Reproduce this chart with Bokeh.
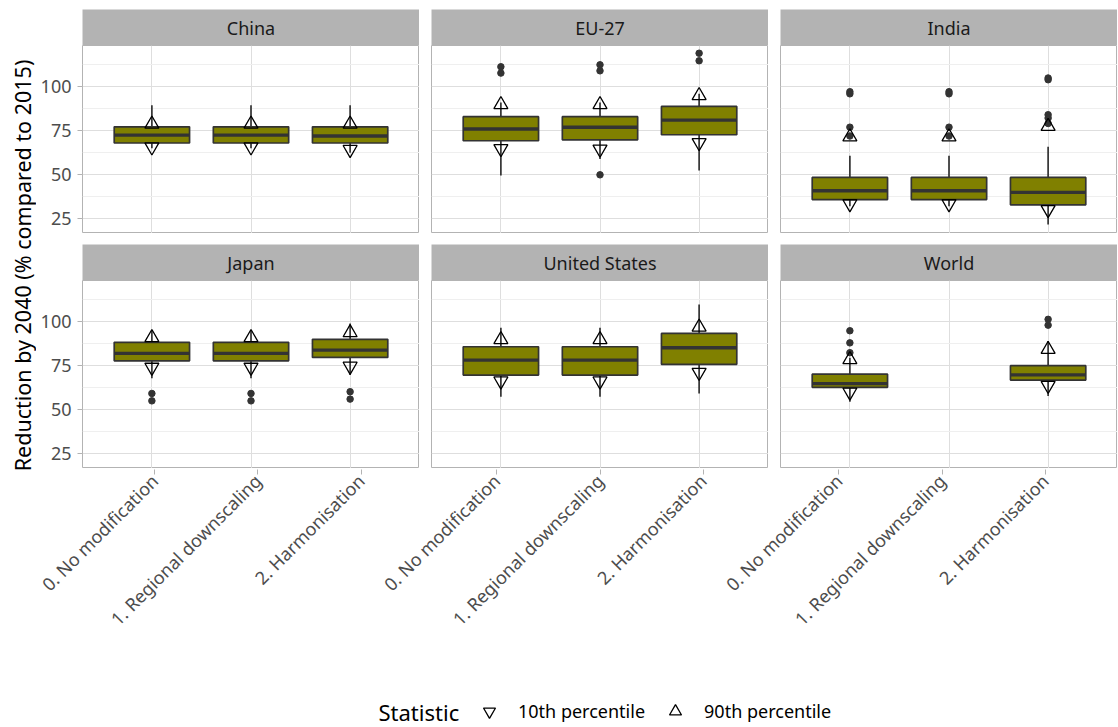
from math import pi
from bokeh.plotting import figure
from bokeh.models import (ColumnDataSource, FactorRange, Range1d, FixedTicker,
                          Label, Legend, LegendItem)
from bokeh.layouts import row, column
from bokeh.transform import dodge
from bokeh.embed import file_html
from bokeh.resources import INLINE

# ---------------- data ----------------
regions = ["China", "EU-27", "India", "Japan", "United States", "World"]
methods = ["0. No modification", "1. Regional downscaling", "2. Harmonisation"]

box_region = [r for r in regions for _ in methods]
box_method = [m for _ in regions for m in methods]

#              China              EU-27              India              Japan              United States      World
whisker_low  = [65.0, 65.0, 62.5,  49.5, 58.9, 52.4,  32.0, 32.0, 21.6,  67.8, 67.8, 69.7,  57.3, 57.3, 59.2,  54.5, None, 57.7]
q1           = [68.0, 68.0, 68.0,  69.3, 69.8, 72.7,  35.8, 35.8, 32.8,  77.8, 77.8, 79.7,  69.7, 69.7, 75.8,  62.7, None, 66.8]
median       = [72.5, 72.5, 72.0,  76.0, 77.0, 81.0,  40.8, 40.8, 39.9,  82.0, 82.0, 83.9,  78.2, 78.2, 85.2,  64.8, None, 69.8]
q3           = [77.2, 77.2, 77.2,  83.0, 83.0, 88.8,  48.4, 48.4, 48.4,  88.3, 88.3, 90.0,  85.8, 85.8, 93.4,  70.2, None, 75.0]
whisker_high = [89.5, 89.5, 89.5,  91.0, 91.0, 96.0,  60.7, 60.7, 65.9,  95.0, 95.0, 99.0,  96.6, 96.6, 109.9, 79.5, None, 89.0]
p10          = [65.8, 65.8, 64.3,  64.8, 64.5, 68.2,  33.4, 33.4, 30.1,  74.1, 74.1, 74.7,  66.3, 66.3, 71.2,  60.0, None, 63.8]
p90          = [78.8, 78.8, 78.8,  89.9, 89.9, 95.0,  71.5, 71.5, 77.5,  91.0, 91.0, 93.8,  89.9, 89.9, 97.0,  78.5, None, 84.3]

out_region = (["EU-27"] * 7 + ["India"] * 13 + ["Japan"] * 6 + ["World"] * 5)
out_method = ([methods[0]] * 2 + [methods[1]] * 3 + [methods[2]] * 2 +
              [methods[0]] * 4 + [methods[1]] * 4 + [methods[2]] * 5 +
              [methods[0]] * 2 + [methods[1]] * 2 + [methods[2]] * 2 +
              [methods[0]] * 3 + [methods[2]] * 2)
out_value = ([111.4, 107.8, 112.5, 109.1, 49.9, 119.1, 114.8] +
             [97.2, 96.0, 77.0, 72.0, 97.2, 96.0, 77.0, 72.0, 105.0, 104.0, 84.1, 82.2, 79.1] +
             [59.2, 55.0, 59.2, 55.0, 60.2, 56.0] +
             [94.9, 88.0, 82.4, 101.4, 98.1])

y_ticks = [25, 50, 75, 100]
y_minor = [37.5, 62.5, 87.5, 112.5]

stat_title = "Statistic"
stat_labels = ["10th percentile", "90th percentile"]

# ---------------- style ----------------
FONT = "Noto Sans"
OLIVE = "#808000"
DARK = "#333333"
FRAME_W, FRAME_H = 337, 188
STRIP_H = 36
TOP_PAD = 9
ROW_GAP = 11
YLAB_W = 36
AXIS_W = 46
GAP = 12
Y0, Y1 = 16.5, 123.5
SMALL = "18px"
LARGE = "21.5px"
PAGE_H = 726
AXB = 181                     # height of the shared x-axis area below the panels

FRAME_LEFT = YLAB_W + AXIS_W
PANELS_W = 3 * FRAME_W + 2 * GAP
FRAME_RIGHT = FRAME_LEFT + PANELS_W


def base_fig(**kw):
    kw.setdefault("toolbar_location", None)
    kw.setdefault("output_backend", "svg")
    kw.setdefault("min_border", 0)
    return figure(**kw)


def make_strip(name, col, top):
    s = base_fig(x_range=Range1d(0, 1), y_range=Range1d(0, 1),
                 frame_width=FRAME_W, frame_height=STRIP_H,
                 min_border_left=AXIS_W if col == 0 else GAP, min_border_top=top,
                 x_axis_location=None, y_axis_location=None,
                 background_fill_color="#b3b3b3", outline_line_color=None)
    s.grid.visible = False
    s.add_layout(Label(x=0.5, y=0.5, text=name, text_align="center", text_baseline="middle",
                       text_font=FONT, text_font_size=SMALL, text_color="#1a1a1a"))
    return s


def make_panel(region, col):
    xr = FactorRange(factors=methods, range_padding=0.2, range_padding_units="absolute",
                     factor_padding=0)
    p = base_fig(x_range=xr, y_range=Range1d(Y0, Y1),
                 frame_width=FRAME_W, frame_height=FRAME_H,
                 min_border_left=AXIS_W if col == 0 else GAP,
                 outline_line_color="#b3b3b3", outline_line_width=1)
    idx = [i for i, r in enumerate(box_region) if r == region and q1[i] is not None]
    src = ColumnDataSource(dict(
        cat=[box_method[i] for i in idx],
        lo=[whisker_low[i] for i in idx], q1=[q1[i] for i in idx],
        med=[median[i] for i in idx], q3=[q3[i] for i in idx],
        hi=[whisker_high[i] for i in idx],
        p10=[p10[i] for i in idx], p90=[p90[i] for i in idx]))
    oidx = [i for i, r in enumerate(out_region) if r == region]
    osrc = ColumnDataSource(dict(cat=[out_method[i] for i in oidx],
                                 v=[out_value[i] for i in oidx]))

    p.segment(x0="cat", x1="cat", y0="q3", y1="hi", source=src, line_color=DARK, line_width=1.7)
    p.segment(x0="cat", x1="cat", y0="q1", y1="lo", source=src, line_color=DARK, line_width=1.7)
    p.vbar(x="cat", width=0.76, bottom="q1", top="q3", source=src,
           fill_color=OLIVE, line_color=DARK, line_width=1.7)
    p.segment(x0=dodge("cat", -0.38, range=xr), x1=dodge("cat", 0.38, range=xr),
              y0="med", y1="med", source=src, line_color=DARK, line_width=3.4)
    p.scatter(x="cat", y="v", source=osrc, size=6.5, color=DARK)
    p.scatter(x="cat", y="p10", source=src, marker="inverted_triangle", size=14,
              fill_color=None, line_color="black", line_width=1.3)
    p.scatter(x="cat", y="p90", source=src, marker="triangle", size=14,
              fill_color=None, line_color="black", line_width=1.3)

    p.xaxis.visible = False
    yax = p.yaxis[0]
    yax.ticker = FixedTicker(ticks=y_ticks, minor_ticks=y_minor)
    if col == 0:
        yax.axis_line_color = None
        yax.major_tick_line_color = "#b3b3b3"
        yax.major_tick_out = 5
        yax.major_tick_in = 0
        yax.minor_tick_line_color = None
        yax.major_label_standoff = 6
        yax.major_label_text_font = FONT
        yax.major_label_text_font_size = SMALL
        yax.major_label_text_color = "#4d4d4d"
    else:
        yax.visible = False
    p.xgrid.grid_line_color = "#dedede"
    p.ygrid.grid_line_color = "#dedede"
    p.ygrid.minor_grid_line_color = "#efefef"
    return p


top_strips = row(*[make_strip(r, c, TOP_PAD) for c, r in enumerate(regions[:3])])
top_panels = row(*[make_panel(r, c) for c, r in enumerate(regions[:3])])
bot_strips = row(*[make_strip(r, c, ROW_GAP) for c, r in enumerate(regions[3:])])
bot_panels = row(*[make_panel(r, c) for c, r in enumerate(regions[3:])])
grid_h = TOP_PAD + STRIP_H + FRAME_H + ROW_GAP + STRIP_H + FRAME_H

# shared y-axis title (its own narrow canvas spanning the whole page height)
ylab = base_fig(x_range=Range1d(0, YLAB_W), y_range=Range1d(-PAGE_H, 0),
                frame_width=YLAB_W, frame_height=PAGE_H,
                x_axis_location=None, y_axis_location=None, outline_line_color=None)
ylab.grid.visible = False
ylab.add_layout(Label(x=22, y=-265,
                      text="Reduction by 2040 (% compared to 2015)", angle=pi / 2,
                      text_align="center", text_baseline="middle",
                      text_font=FONT, text_font_size=LARGE, text_color="black"))

# shared x-axis for the bottom row (nested factors reproduce the panel gaps)
unit_px = FRAME_W / 3.2
gpad = 1.2 + GAP / unit_px - 1.0
nested = [(r, m) for r in regions[3:] for m in methods]
ax_range = FactorRange(factors=nested, factor_padding=0, group_padding=gpad,
                       range_padding=0.2, range_padding_units="absolute")
axf = base_fig(x_range=ax_range, y_range=Range1d(0, 1),
               frame_width=PANELS_W, frame_height=1,
               min_border_left=AXIS_W, min_border_bottom=AXB,
               y_axis_location=None, outline_line_color=None)
axf.grid.visible = False
xa = axf.xaxis[0]
xa.axis_line_color = None
xa.major_tick_line_color = "#b3b3b3"
xa.major_tick_out = 5
xa.major_tick_in = 0
xa.major_label_standoff = 3
xa.major_label_orientation = pi / 4
xa.major_label_text_font = FONT
xa.major_label_text_font_size = SMALL
xa.major_label_text_color = "#4d4d4d"
xa.group_text_color = None
xa.group_text_font_size = "1px"
xa.separator_line_color = None

# legend strip: x data = page px, y data = -(page px from top)
leg_top = grid_h + 1 + AXB
LEG_H = PAGE_H - leg_top
lf = base_fig(x_range=Range1d(FRAME_LEFT, FRAME_RIGHT), y_range=Range1d(-PAGE_H, -leg_top),
              frame_width=PANELS_W, frame_height=LEG_H, min_border_left=AXIS_W,
              x_axis_location=None, y_axis_location=None, outline_line_color=None)
lf.grid.visible = False
# legend proxies carry the real percentile values, which fall outside this strip's ranges
valid = [i for i in range(len(p10)) if p10[i] is not None]
psrc = ColumnDataSource(dict(a=[p10[i] for i in valid], b=[p90[i] for i in valid]))
r10 = lf.scatter("a", "b", source=psrc, marker="inverted_triangle", size=14,
                 fill_color=None, line_color="black", line_width=1.3)
r90 = lf.scatter("b", "a", source=psrc, marker="triangle", size=14,
                 fill_color=None, line_color="black", line_width=1.3)
LEG_CY = 711                       # legend centre, px from the top of the page
lf.add_layout(Legend(items=[LegendItem(label=stat_labels[0], renderers=[r10]),
                            LegendItem(label=stat_labels[1], renderers=[r90])],
                     orientation="horizontal",
                     location=(474 - FRAME_LEFT, PAGE_H - LEG_CY - 15),
                     padding=0, margin=0, spacing=15,
                     glyph_width=30, glyph_height=30, label_standoff=14,
                     label_text_font=FONT, label_text_font_size=SMALL,
                     label_text_color="black", label_text_baseline="middle",
                     border_line_color=None, background_fill_alpha=0))
lf.add_layout(Label(x=378, y=-LEG_CY, text=stat_title,
                    text_baseline="middle", text_font=FONT, text_font_size="22px",
                    text_color="black"))

layout = row(ylab, column(top_strips, top_panels, bot_strips, bot_panels, axf, lf))

open("out.html", "w").write(file_html(layout, INLINE))
